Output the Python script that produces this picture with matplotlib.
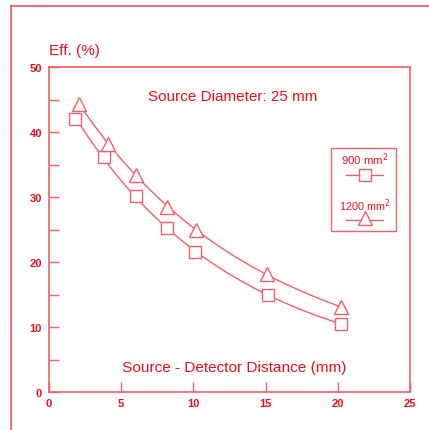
import numpy as np
import matplotlib
matplotlib.use("Agg")
import matplotlib.pyplot as plt
from matplotlib.lines import Line2D
from matplotlib.patches import Rectangle

plt.rcParams['font.family'] = ['Liberation Sans', 'DejaVu Sans']

x_sq = [1.8, 3.8, 6.0, 8.2, 10.1, 15.2, 20.2]
y_sq = [42.0, 36.2, 30.2, 25.2, 21.5, 14.9, 10.5]
x_tri = [2.1, 4.1, 6.0, 8.2, 10.2, 15.1, 20.2]
y_tri = [44.3, 38.2, 33.4, 28.5, 24.9, 18.1, 13.1]
xticks = [0, 5, 10, 15, 20, 25]
yticks = [0, 10, 20, 30, 40, 50]

W, H = 429, 431
TXT = '#e8101c'
LN = '#f0606a'

fig = plt.figure(figsize=(W/100, H/100), dpi=100)
ax = fig.add_axes([49/W, 1-393/H, (410-49)/W, (393-68)/H])
ax.set_xlim(0, 25)
ax.set_ylim(0, 50)
for s in ax.spines.values():
    s.set_color(LN)
    s.set_linewidth(1.2)

def fitcurve(xs, ys):
    xs = np.asarray(xs); ys = np.asarray(ys)
    c = np.polyfit(xs, np.log(ys), 2)
    xx = np.linspace(xs.min(), xs.max(), 200)
    return xx, np.exp(np.polyval(c, xx))

xx, yy = fitcurve(x_sq, y_sq)
ax.plot(xx, yy, color=LN, lw=1.0)
xx, yy = fitcurve(x_tri, y_tri)
ax.plot(xx, yy, color=LN, lw=1.0)
ax.plot(x_sq, y_sq, ls='none', marker='s', ms=8, mfc='white', mec=LN, mew=1.0)
ax.plot(x_tri, y_tri, ls='none', marker='^', ms=10, mfc='white', mec=LN, mew=1.0)

ax.set_xticks(xticks)
ax.set_yticks(yticks)
ax.set_yticks([5, 15, 25, 35, 45], minor=True)
ax.tick_params(axis='both', which='both', direction='in', length=7, color=LN, width=1,
               labelcolor=TXT, labelsize=8)
ax.tick_params(axis='y', pad=5)
ax.tick_params(axis='x', pad=4)
for lab in ax.get_xticklabels() + ax.get_yticklabels():
    lab.set_fontweight('bold')

def fx(px): return px / W
def fy(py): return 1 - py / H

fig.text(fx(49), fy(51), 'Eff. (%)', color=TXT, fontsize=11, ha='left', va='center')
fig.text(fx(233), fy(97), 'Source Diameter: 25 mm', color=TXT, fontsize=11, ha='center', va='center')
fig.text(fx(234), fy(368), 'Source - Detector Distance (mm)', color=TXT, fontsize=11.1, ha='center', va='center')

# legend box
fig.add_artist(Rectangle((fx(331), fy(232)), (396-331)/W, (232-149)/H, transform=fig.transFigure,
                         fill=False, ec=LN, lw=1.0))
fig.text(fx(365), fy(160), '900 mm$^2$', color=TXT, fontsize=8.2, ha='center', va='center')
fig.add_artist(Line2D([fx(346), fx(383)], [fy(176), fy(176)], color=LN, lw=1.0,
                      marker='none', transform=fig.transFigure))
fig.add_artist(Line2D([fx(364.5)], [fy(176)], marker='s', ms=8, mfc='white', mec=LN, mew=1.0,
                      transform=fig.transFigure))
fig.text(fx(364.5), fy(206), '1200 mm$^2$', color=TXT, fontsize=7.8, ha='center', va='center')
fig.add_artist(Line2D([fx(346), fx(383)], [fy(221), fy(221)], color=LN, lw=1.0,
                      transform=fig.transFigure))
fig.add_artist(Line2D([fx(364.5)], [fy(219)], marker='^', ms=10, mfc='white', mec=LN, mew=1.0,
                      transform=fig.transFigure))

# outer frame
fig.add_artist(Line2D([fx(11), fx(11)], [fy(7), fy(431)], color=LN, lw=1.3, transform=fig.transFigure))
fig.add_artist(Line2D([fx(11), fx(429)], [fy(7), fy(7)], color=LN, lw=1.3, transform=fig.transFigure))

fig.savefig('out.png', dpi=100, facecolor='white')
